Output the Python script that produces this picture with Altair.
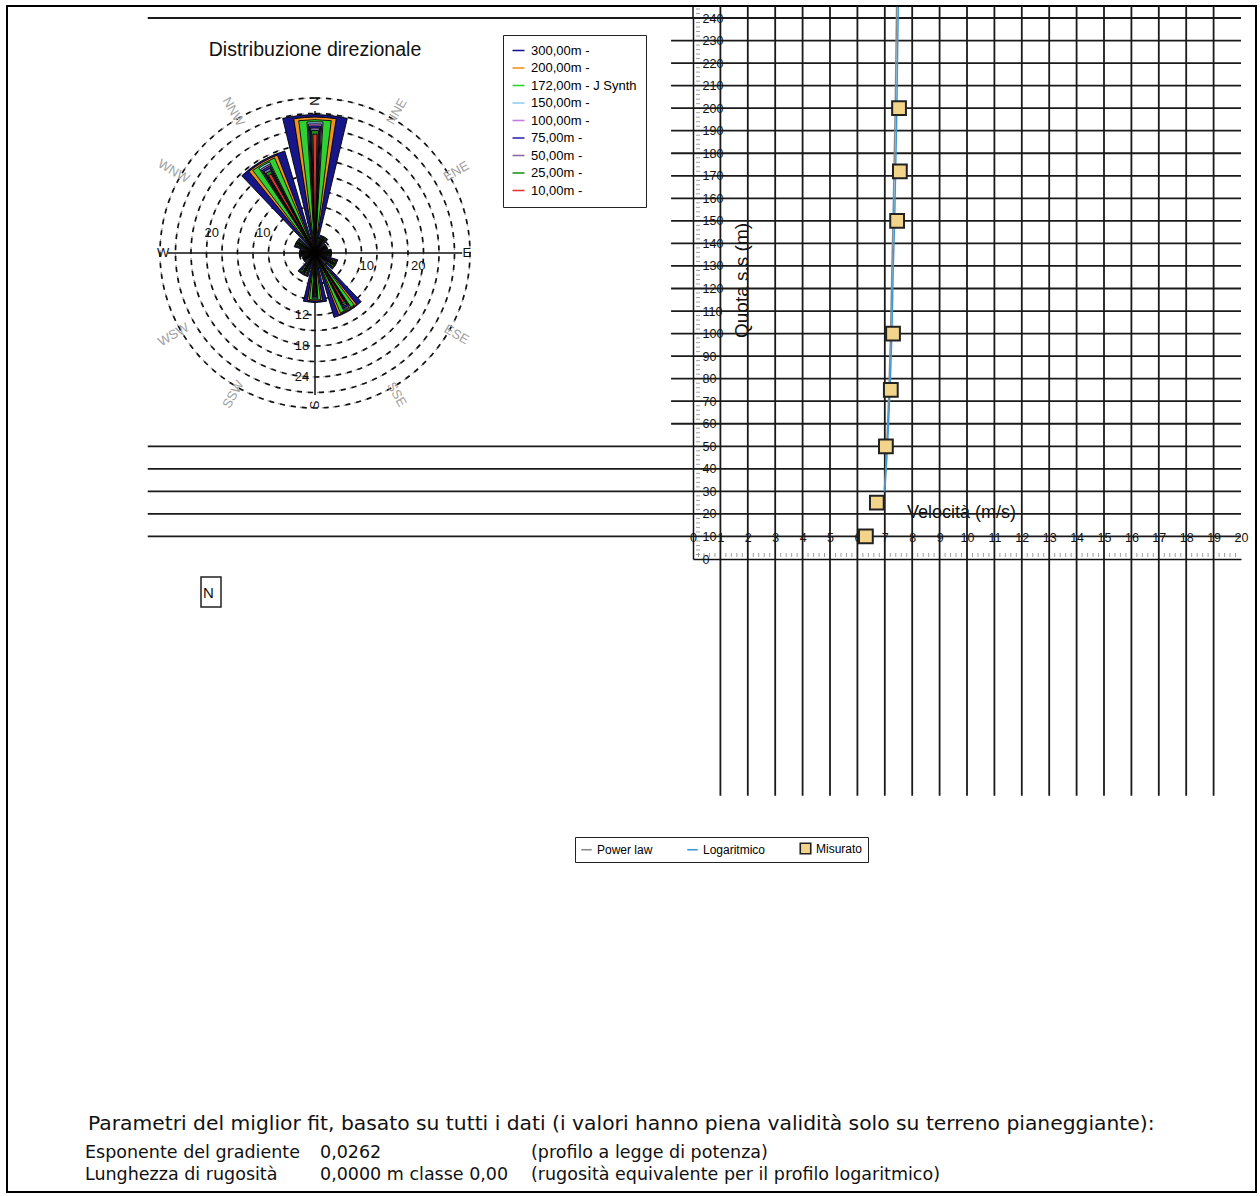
import altair as alt
import pandas as pd

# ---------------------------------------------------------------- layout
PAGE_W, PAGE_H = 1260, 1196
VIEW_LEFT, VIEW_TOP = 693, 18      # top-left corner of the profile plot area
VIEW_W, VIEW_H = 548, 541          # 0..20 m/s across, 0..240 m up


def rx(px):
    return px - VIEW_LEFT


def ry(py):
    return py - VIEW_TOP


# ---------------------------------------------------------------- wind rose data
SECTOR_DEG = [0, 30, 60, 90, 120, 150, 180, 210, 240, 270, 300, 330]
SECTOR_NAMES = ["N", "NNE", "ENE", "E", "ESE", "SSE", "S", "SSW", "WSW", "W", "WNW", "NNW"]

HEIGHT_SERIES = ["300,00m -", "200,00m -", "172,00m - J Synth", "150,00m -",
                 "100,00m -", "75,00m -", "50,00m -", "25,00m -", "10,00m -"]

FREQ_300 = [26.8, 3.6, 2.6, 3.2, 4.6, 13.0, 9.6, 4.8, 2.6, 3.0, 4.2, 20.6]
FREQ_200 = [26.3, 3.5, 2.5, 3.1, 4.5, 12.8, 9.3, 4.6, 2.5, 2.9, 4.1, 20.3]
FREQ_172 = [25.8, 3.4, 2.5, 3.0, 4.4, 12.6, 9.1, 4.5, 2.5, 2.9, 4.0, 20.0]
FREQ_150 = [25.4, 3.3, 2.4, 3.0, 4.3, 12.4, 8.9, 4.4, 2.4, 2.8, 3.9, 19.7]
FREQ_100 = [25.0, 3.3, 2.4, 2.9, 4.2, 12.2, 8.7, 4.3, 2.4, 2.8, 3.8, 19.3]
FREQ_75 = [24.6, 3.2, 2.3, 2.9, 4.1, 12.0, 8.5, 4.2, 2.3, 2.7, 3.8, 19.0]
FREQ_50 = [24.2, 3.1, 2.3, 2.8, 4.0, 11.7, 8.3, 4.1, 2.3, 2.7, 3.7, 18.6]
FREQ_25 = [23.7, 3.0, 2.2, 2.8, 3.9, 11.4, 8.1, 4.0, 2.2, 2.6, 3.6, 18.1]
FREQ_10 = [23.0, 2.9, 2.2, 2.7, 3.8, 11.0, 7.8, 3.9, 2.2, 2.6, 3.5, 17.5]
FREQS = [FREQ_300, FREQ_200, FREQ_172, FREQ_150, FREQ_100, FREQ_75, FREQ_50, FREQ_25, FREQ_10]

SERIES_COLORS = ["#16168a", "#f0901e", "#30d030", "#90ccf0", "#c878e0",
                 "#2828a8", "#8868a8", "#1e8e1e", "#e03434"]
SERIES_HALF_WIDTH = [13.5, 9, 7, 3.5, 3, 2.5, 2, 1.6, 1.0]   # degrees, drawing style

RING_STEPS = [3, 6, 9, 12, 15, 18, 21, 24, 27, 30]
SPOKE_DEG = [0, 90, 180, 270]
SPOKE_LEN = [27.5, 28.5, 27.5, 28.5]
RADIAL_TICKS_WE = [10, 20]
RADIAL_TICKS_S = [12, 18, 24]

ROSE_TITLE = "Distribuzione direzionale"

# ---------------------------------------------------------------- profile data
MEAS_H = [10, 25, 50, 75, 100, 150, 172, 200]
MEAS_V = [6.31, 6.71, 7.04, 7.22, 7.30, 7.45, 7.55, 7.52]
FIT_H = [30, 40, 50, 75, 100, 130, 150, 175, 200, 245]
LOG_V = [7.00, 7.05, 7.10, 7.19, 7.26, 7.31, 7.36, 7.40, 7.44, 7.49]
POW_V = [6.98, 7.03, 7.07, 7.15, 7.21, 7.26, 7.30, 7.34, 7.38, 7.43]
KIND_DOMAIN = ["Power law", "Logaritmico", "Misurato"]

X_TICKS = list(range(0, 21))
Y_TICKS = list(range(0, 250, 10))
GRID_H = list(range(10, 250, 10))
LONG_GRID_H = [10, 20, 30, 40, 50, 240]
GRID_V = list(range(1, 20))
X_TITLE = "Velocità (m/s)"
Y_TITLE = "Quota s.s (m)"

FIT_HEADER = ("Parametri del miglior fit, basato su tutti i dati  "
              "(i valori hanno piena validità solo su terreno pianeggiante):")
FIT_ROWS = [
    ["Esponente del gradiente", "0,0262", "(profilo a legge di potenza)"],
    ["Lunghezza di rugosità", "0,0000  m classe 0,00", "(rugosità equivalente per il profilo logaritmico)"],
]

# ---------------------------------------------------------------- scales & axes
XS = alt.Scale(domain=[0, 20], nice=False, zero=False)
YS = alt.Scale(domain=[0, 240], nice=False, zero=False)
THETA = alt.Scale(domain=[0, 360], range=[0, 6.283185307179586])
RADIUS = alt.Scale(type="linear", domain=[0, 30], range=[0, 155], zero=True)

LABEL_FONT = "Liberation Sans"
NOTE_FONT = "DejaVu Sans"

X_AXIS = alt.Axis(values=X_TICKS, grid=False, ticks=False, domainColor="#111",
                  domainWidth=1.5, labelPadding=-22, labelBaseline="middle",
                  labelFontSize=12.5, labelColor="#111", labelFont=LABEL_FONT,
                  labelFlush=False, labelOverlap=False,
                  titleFontSize=18, titleFontWeight="normal", titleColor="#111",
                  titleFont=LABEL_FONT, titleX=268, titleY=-47, titleBaseline="middle")
Y_AXIS = alt.Axis(values=Y_TICKS, grid=False, ticks=False, domainColor="#111",
                  domainWidth=1.5, labelAlign="left", labelPadding=-9,
                  labelBaseline="middle", labelFontSize=12.5, labelColor="#111",
                  labelFont=LABEL_FONT, labelFlush=False, labelOverlap=False,
                  titleFontSize=19, titleFontWeight="normal", titleColor="#111",
                  titleFont=LABEL_FONT, titleX=48, titleY=262, titleAngle=270,
                  titleBaseline="middle", titleAlign="center")


def X(field):
    return alt.X(field, type="quantitative", scale=XS, axis=X_AXIS, title=X_TITLE)


def Y(field):
    return alt.Y(field, type="quantitative", scale=YS, axis=Y_AXIS, title=Y_TITLE)


def one_row():
    return alt.Data(values=[{"k": 1}])


# ---------------------------------------------------------------- page frame
frame = alt.Chart(one_row()).mark_rect(filled=False, stroke="black", strokeWidth=2).encode(
    x=alt.value(rx(7)), x2=alt.value(rx(1256)), y=alt.value(ry(6)), y2=alt.value(ry(1192)))

# ---------------------------------------------------------------- profile grid
hgrid_df = pd.DataFrame({
    "h": GRID_H,
    "v0": [-19.9 if h in LONG_GRID_H else -0.8 for h in GRID_H],
    "v1": [20] * len(GRID_H),
})
hgrid = alt.Chart(hgrid_df).mark_rule(color="#1a1a1a", strokeWidth=1.8).encode(
    y=Y("h"), x=X("v0"), x2="v1:Q")

vgrid_df = pd.DataFrame({"v": GRID_V, "h0": [-105] * len(GRID_V), "h1": [245.3] * len(GRID_V)})
vgrid = alt.Chart(vgrid_df).mark_rule(color="#1a1a1a", strokeWidth=1.8).encode(
    x=X("v"), y=Y("h0"), y2="h1:Q")

axis_top = alt.Chart(pd.DataFrame({"v": [0], "h0": [240], "h1": [245.3]})).mark_rule(
    color="#111", strokeWidth=1.5).encode(x=X("v"), y=Y("h0"), y2="h1:Q")

y_minor = alt.Chart(pd.DataFrame({"h": [h for h in range(0, 246, 2) if h % 10]})).mark_tick(
    orient="horizontal", size=4, thickness=1, color="#777").encode(y=Y("h"), x=alt.value(5))
x_minor = alt.Chart(pd.DataFrame({"v": [i / 5 for i in range(0, 101) if i % 5]})).mark_tick(
    orient="vertical", size=4, thickness=1, color="#777").encode(x=X("v"), y=alt.value(VIEW_H - 4))

# ---------------------------------------------------------------- profile curves
fit_df = pd.DataFrame({
    "kind": ["Power law"] * len(FIT_H) + ["Logaritmico"] * len(FIT_H),
    "h": FIT_H + FIT_H,
    "v": POW_V + LOG_V,
})
PROFILE_LEGEND = alt.Legend(orient="none", legendX=rx(575), legendY=ry(837),
                            direction="horizontal", strokeColor="#222", fillColor="white",
                            padding=5, labelFontSize=12, labelFont=LABEL_FONT,
                            symbolSize=110, columnPadding=31, symbolStrokeWidth=1.6)
STROKE_S = alt.Scale(domain=KIND_DOMAIN, range=["#8a8a8a", "#3a9ad9", "#222222"])
FILL_S = alt.Scale(domain=KIND_DOMAIN, range=["transparent", "transparent", "#f2d48a"])
SHAPE_S = alt.Scale(domain=KIND_DOMAIN, range=["stroke", "stroke", "square"])

fit_lines = alt.Chart(fit_df).mark_line(strokeWidth=1.5).encode(
    x=X("v"), y=Y("h"), order="h:Q",
    stroke=alt.Stroke("kind:N", scale=STROKE_S, title=None, legend=PROFILE_LEGEND))

meas_df = pd.DataFrame({"kind": ["Misurato"] * len(MEAS_H), "h": MEAS_H, "v": MEAS_V})
meas = alt.Chart(meas_df).mark_point(filled=True, size=190, strokeWidth=2, opacity=1).encode(
    x=X("v"), y=Y("h"),
    fill=alt.Fill("kind:N", scale=FILL_S, title=None, legend=PROFILE_LEGEND),
    shape=alt.Shape("kind:N", scale=SHAPE_S, title=None, legend=PROFILE_LEGEND),
    stroke=alt.Stroke("kind:N", scale=STROKE_S, title=None, legend=PROFILE_LEGEND))

# ---------------------------------------------------------------- wind rose
CX, CY = rx(315), ry(253)

rings_df = pd.DataFrame({"r": RING_STEPS, "t0": [0] * len(RING_STEPS), "t1": [360] * len(RING_STEPS)})
rings_dark = alt.Chart(rings_df).mark_arc(filled=False, stroke="#111", strokeWidth=1.7,
                                          strokeDash=[5, 6]).encode(
    x=alt.value(CX), y=alt.value(CY),
    theta=alt.Theta("t0:Q", scale=THETA, stack=False), theta2="t1:Q",
    radius=alt.Radius("r:Q", scale=RADIUS))
rings_light = alt.Chart(rings_df).mark_arc(filled=False, stroke="#9a9a9a", strokeWidth=1.3,
                                           strokeDash=[3, 8], strokeDashOffset=7).encode(
    x=alt.value(CX), y=alt.value(CY),
    theta=alt.Theta("t0:Q", scale=THETA, stack=False), theta2="t1:Q",
    radius=alt.Radius("r:Q", scale=RADIUS))

spokes_df = pd.DataFrame({"deg": SPOKE_DEG, "r": SPOKE_LEN})
spokes = alt.Chart(spokes_df).mark_arc(filled=False, stroke="#111", strokeWidth=1.5).encode(
    x=alt.value(CX), y=alt.value(CY),
    theta=alt.Theta("deg:Q", scale=THETA, stack=False), theta2="deg:Q",
    radius=alt.Radius("r:Q", scale=RADIUS))

rose_rows = []
for i, (name, freqs) in enumerate(zip(HEIGHT_SERIES, FREQS)):
    hw = SERIES_HALF_WIDTH[i]
    for deg, f in zip(SECTOR_DEG, freqs):
        rose_rows.append({"series": name, "a0": deg - hw, "a1": deg + hw, "freq": f})
rose_df = pd.DataFrame(rose_rows)

ROSE_LEGEND = alt.Legend(orient="none", legendX=rx(503), legendY=ry(35), strokeColor="#222",
                         fillColor="white", padding=9, rowPadding=3.5, labelFontSize=13,
                         labelFont=LABEL_FONT, labelLimit=220,
                         symbolType="M-1,-0.13H1V0.13H-1Z", symbolSize=144,
                         symbolStrokeWidth=0, labelOffset=6)
wedges = alt.Chart(rose_df).mark_arc(stroke="black", strokeWidth=0.9, opacity=1).encode(
    x=alt.value(CX), y=alt.value(CY),
    theta=alt.Theta("a0:Q", scale=THETA, stack=False), theta2="a1:Q",
    radius=alt.Radius("freq:Q", scale=RADIUS),
    color=alt.Color("series:N", scale=alt.Scale(domain=HEIGHT_SERIES, range=SERIES_COLORS),
                    title=None, legend=ROSE_LEGEND))


def text_rotation(d):
    r = (d - 90) % 180
    if r >= 90:
        r -= 180
    return r % 360


dir_df = pd.DataFrame({
    "name": SECTOR_NAMES,
    "deg": SECTOR_DEG,
    "rot": [text_rotation(d) for d in SECTOR_DEG],
    "cardinal": [d % 90 == 0 for d in SECTOR_DEG],
})
dir_df["r"] = [29.4 if c else 31.6 for c in dir_df["cardinal"]]


def dir_labels(cardinal, color):
    return alt.Chart(dir_df[dir_df["cardinal"] == cardinal]).mark_text(
        fontSize=13, font=LABEL_FONT, color=color, baseline="middle", align="center").encode(
        x=alt.value(CX), y=alt.value(CY),
        theta=alt.Theta("deg:Q", scale=THETA, stack=False),
        radius=alt.Radius("r:Q", scale=RADIUS),
        angle=alt.Angle("rot:Q", scale=alt.Scale(domain=[0, 360], range=[0, 360])),
        text="name:N")


def radial_labels(values, deg, dx, dy):
    df = pd.DataFrame({"r": values, "deg": [deg] * len(values), "lab": [str(v) for v in values]})
    return alt.Chart(df).mark_text(fontSize=13, font=LABEL_FONT, color="#111",
                                   baseline="middle", align="center", dx=dx, dy=dy).encode(
        x=alt.value(CX), y=alt.value(CY),
        theta=alt.Theta("deg:Q", scale=THETA, stack=False),
        radius=alt.Radius("r:Q", scale=RADIUS),
        text="lab:N")


# ---------------------------------------------------------------- free text
def note(text, px, py, size, font=LABEL_FONT, align="left", color="#111"):
    return alt.Chart(alt.Data(values=[{"t": text}])).mark_text(
        align=align, baseline="middle", fontSize=size, font=font, color=color).encode(
        text="t:N", x=alt.value(rx(px)), y=alt.value(ry(py)))


rose_title = note(ROSE_TITLE, 315, 50, 19.5, align="center")
n_box = alt.Chart(one_row()).mark_rect(filled=False, stroke="#222", strokeWidth=1.5).encode(
    x=alt.value(rx(201)), x2=alt.value(rx(221)), y=alt.value(ry(577)), y2=alt.value(ry(607)))
n_text = note("N", 203, 593, 15, align="left")

notes = [note(FIT_HEADER, 88, 1124, 20.3, font=NOTE_FONT)]
for row, py in zip(FIT_ROWS, [1153, 1175]):
    notes.append(note(row[0], 85, py, 17.5, font=NOTE_FONT))
    notes.append(note(row[1], 320, py, 17.5, font=NOTE_FONT))
    notes.append(note(row[2], 531, py, 17.5, font=NOTE_FONT))

layers = [frame, hgrid, vgrid, axis_top, y_minor, x_minor,
          rings_light, rings_dark, spokes, wedges,
          dir_labels(False, "#a0a0a0"), dir_labels(True, "#111"),
          radial_labels(RADIAL_TICKS_WE, 270, 0, -20),
          radial_labels(RADIAL_TICKS_WE, 90, 0, 13),
          radial_labels(RADIAL_TICKS_S, 180, -13, 0),
          rose_title, n_box, n_text,
          fit_lines, meas] + notes

chart = alt.layer(*layers).properties(
    width=VIEW_W,
    height=VIEW_H,
    padding={"left": VIEW_LEFT, "top": VIEW_TOP,
             "right": PAGE_W - VIEW_LEFT - VIEW_W, "bottom": PAGE_H - VIEW_TOP - VIEW_H},
    autosize=alt.AutoSizeParams(type="none"),
    background="white",
).configure_view(strokeWidth=0)

chart.save("out.html", embed_options={"renderer": "svg", "actions": False})
